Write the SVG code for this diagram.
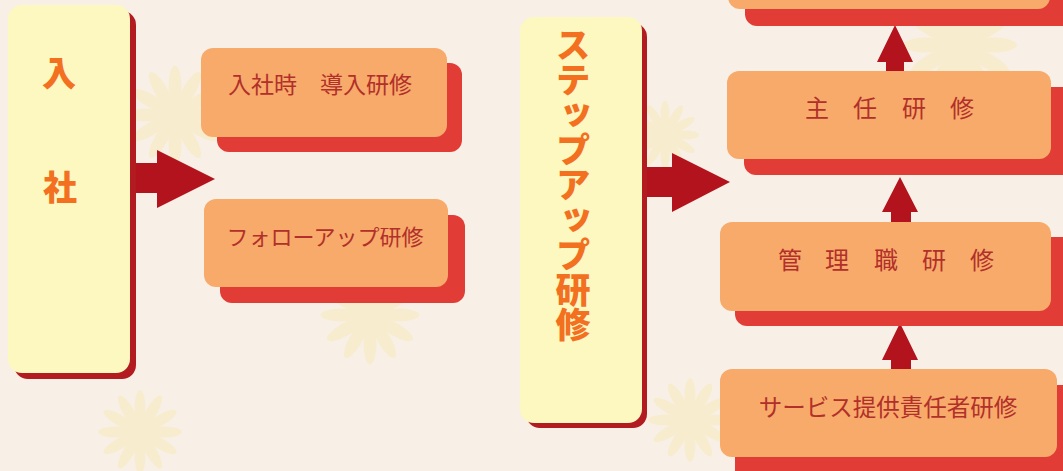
<svg xmlns="http://www.w3.org/2000/svg" xmlns:xlink="http://www.w3.org/1999/xlink" width="1063" height="471" viewBox="0 0 1063 471">
<defs>
<style>
.bg{fill:#f8f0e7}
.yface{fill:#fdf7c0}
.yshadow{fill:#b21c20}
.oface{fill:#f8aa6a}
.oshadow{fill:#e13c36}
.arrow{fill:#b3131d}
.big{font-family:"Noto Sans CJK JP","Noto Sans CJK SC",sans-serif;font-weight:900;fill:#f27020;text-anchor:middle}
.vert{writing-mode:vertical-rl;text-anchor:start}
.lbl{font-family:"Noto Sans CJK JP","Noto Sans CJK SC",sans-serif;font-weight:400;fill:#b2302a;text-anchor:middle}
.flw{fill:#f8e6a0;opacity:0.35}
</style>
<g id="flower">
<g class="flw">
<ellipse cx="0" cy="-22" rx="5" ry="16"/>
<ellipse cx="0" cy="-22" rx="5" ry="16" transform="rotate(30)"/>
<ellipse cx="0" cy="-22" rx="5" ry="16" transform="rotate(60)"/>
<ellipse cx="0" cy="-22" rx="5" ry="16" transform="rotate(90)"/>
<ellipse cx="0" cy="-22" rx="5" ry="16" transform="rotate(120)"/>
<ellipse cx="0" cy="-22" rx="5" ry="16" transform="rotate(150)"/>
<ellipse cx="0" cy="-22" rx="5" ry="16" transform="rotate(180)"/>
<ellipse cx="0" cy="-22" rx="5" ry="16" transform="rotate(210)"/>
<ellipse cx="0" cy="-22" rx="5" ry="16" transform="rotate(240)"/>
<ellipse cx="0" cy="-22" rx="5" ry="16" transform="rotate(270)"/>
<ellipse cx="0" cy="-22" rx="5" ry="16" transform="rotate(300)"/>
<ellipse cx="0" cy="-22" rx="5" ry="16" transform="rotate(330)"/>
<circle cx="0" cy="0" r="8"/>
</g>
</g>
</defs>
<rect class="bg" x="0" y="0" width="1063" height="471"/>
<g id="decor">
<use xlink:href="#flower" transform="translate(175,115) scale(1.3)"/>
<use xlink:href="#flower" transform="translate(370,315) scale(1.3)"/>
<use xlink:href="#flower" transform="translate(140,432) scale(1.1)"/>
<use xlink:href="#flower" transform="translate(960,45) scale(1.5)"/>
<use xlink:href="#flower" transform="translate(690,420) scale(1.1)"/>
<use xlink:href="#flower" transform="translate(665,135) scale(0.9)"/>
</g>
<g id="connectors">
<polygon class="arrow" points="130,163 157,163 157,150 215,179 157,208 157,193 130,193"/>
<polygon class="arrow" points="640,167 672,167 672,153 730,182 672,212 672,197 640,197"/>
<polygon class="arrow" points="886,74 886,62 877,62 895,25 913,62 904,62 904,74"/>
<polygon class="arrow" points="891,224 891,212 882,212 900,177 918,212 911,212 911,224"/>
<polygon class="arrow" points="891,371 891,360 882,360 900,323 918,360 911,360 911,371"/>
</g>
<g id="node-nyusha">
<rect class="yshadow" x="14" y="11" width="122" height="368" rx="14"/>
<rect class="yface" x="8" y="5" width="122" height="368" rx="14"/>
<text class="big" x="59" y="86" font-size="34">入</text>
<text class="big" x="60" y="200" font-size="34">社</text>
</g>
<g id="node-donyu">
<rect class="oshadow" x="217" y="63" width="245" height="89" rx="12"/>
<rect class="oface" x="201" y="48" width="246" height="89" rx="12"/>
<text class="lbl" x="320" y="93" font-size="23">入社時　導入研修</text>
</g>
<g id="node-follow">
<rect class="oshadow" x="220" y="215" width="245" height="88" rx="12"/>
<rect class="oface" x="204" y="199" width="244" height="88" rx="12"/>
<text class="lbl" x="325" y="245" font-size="22">フォローアップ研修</text>
</g>
<g id="node-stepup">
<rect class="yshadow" x="526" y="23" width="121" height="405" rx="14"/>
<rect class="yface" x="520" y="17" width="122" height="406" rx="14"/>
<text class="big vert" font-size="35" x="573" y="27">ステップアップ研修</text>
</g>
<g id="node-top">
<rect class="oshadow" x="745" y="-63" width="330" height="89" rx="12"/>
<rect class="oface" x="728" y="-80" width="322" height="89" rx="12"/>
</g>
<g id="node-shunin">
<rect class="oshadow" x="744" y="87" width="330" height="88" rx="12"/>
<rect class="oface" x="727" y="71" width="324" height="88" rx="12"/>
<text class="lbl" font-size="24" x="817 865 914 962" y="117">主任研修</text>
</g>
<g id="node-kanri">
<rect class="oshadow" x="735" y="237" width="340" height="89" rx="12"/>
<rect class="oface" x="720" y="222" width="331" height="89" rx="12"/>
<text class="lbl" font-size="24" x="790 837 886 934 982" y="269">管理職研修</text>
</g>
<g id="node-service">
<rect class="oshadow" x="735" y="385" width="340" height="100" rx="12"/>
<rect class="oface" x="720" y="369" width="337" height="88" rx="12"/>
<text class="lbl" x="888" y="416" font-size="23.5">サービス提供責任者研修</text>
</g>
</svg>
